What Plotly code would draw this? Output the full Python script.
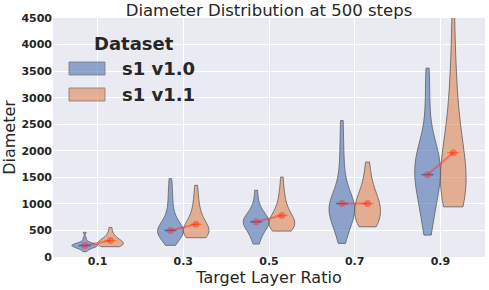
import plotly.graph_objects as go

categories = ["0.1", "0.3", "0.5", "0.7", "0.9"]
series_names = ["s1 v1.0", "s1 v1.1"]

# estimated sample values per category (read from the violin shapes)
v10_samples = [
    [100, 150, 160, 170, 185, 195, 200, 210, 215, 220, 225, 230, 235, 245, 255, 270, 300, 360, 465],
    [219, 260, 300, 340, 370, 400, 420, 440, 460, 475, 490, 500, 510, 525, 540, 560, 590, 620, 660,
     700, 760, 830, 900, 1050, 1150, 1300, 1475],
    [244, 330, 400, 450, 500, 540, 570, 600, 620, 640, 660, 680, 700, 720, 750, 780, 820, 870, 930,
     1050, 1256],
    [256, 380, 480, 560, 620, 680, 730, 780, 820, 860, 890, 920, 950, 980, 1010, 1050, 1100, 1160,
     1230, 1320, 1450, 1650, 1900, 2200, 2569],
    [412, 600, 750, 880, 1000, 1100, 1200, 1280, 1350, 1420, 1480, 1540, 1600, 1660, 1720, 1780,
     1850, 1920, 1980, 2050, 2150, 2300, 2700, 3100, 3556],
]
v11_samples = [
    [194, 200, 205, 210, 220, 230, 240, 250, 260, 270, 280, 290, 300, 310, 325, 340, 360, 385, 420,
     470, 556],
    [363, 370, 380, 390, 400, 420, 440, 460, 480, 500, 520, 540, 560, 580, 600, 630, 660, 700, 750,
     800, 870, 950, 1050, 1180, 1350],
    [488, 495, 505, 520, 540, 560, 580, 600, 620, 640, 660, 680, 700, 720, 745, 770, 800, 840, 880,
     940, 1000, 1080, 1180, 1300, 1506],
    [569, 580, 600, 630, 660, 700, 740, 780, 820, 860, 900, 930, 960, 990, 1020, 1060, 1100, 1150,
     1200, 1270, 1350, 1450, 1600, 1788],
    [944, 960, 990, 1030, 1080, 1140, 1200, 1270, 1340, 1410, 1480, 1550, 1620, 1700, 1780, 1860,
     1950, 2050, 2150, 2280, 2420, 2600, 2800, 3050, 3350, 3700, 4300, 5200],
]
# mean values shown by the markers
v10_means = [215, 500, 662, 1006, 1550]
v11_means = [310, 615, 781, 1006, 1965]

fill_colors = ["rgba(76,114,176,0.6)", "rgba(221,132,82,0.6)"]
mean_line_colors = ["#1f77b4", "#ff7f0e"]
edge = "rgba(100,100,100,0.85)"
off = 0.15
vw = 0.3
half = 0.07

fig = go.Figure()
for k, (name, samples, fc) in enumerate(zip(series_names, [v10_samples, v11_samples], fill_colors)):
    sign = -1 if k == 0 else 1
    for i, s in enumerate(samples):
        fig.add_trace(go.Violin(
            x=[i + sign * off] * len(s), y=s, name=name, legendgroup=name,
            scalegroup=f"{k}-{i}", width=vw, showlegend=False,
            fillcolor=fc, line=dict(color=edge, width=1),
            spanmode="hard", scalemode="width", points=False,
            box=dict(visible=False), meanline=dict(visible=False),
            hoverinfo="skip",
        ))

# short horizontal mean lines
for k, (means, col) in enumerate(zip([v10_means, v11_means], mean_line_colors)):
    sign = -1 if k == 0 else 1
    lx, ly = [], []
    for i, m in enumerate(means):
        c = i + sign * off
        lx += [c - half, c + half, None]
        ly += [m, m, None]
    fig.add_trace(go.Scatter(x=lx, y=ly, mode="lines", line=dict(color=col, width=1.5),
                             showlegend=False, hoverinfo="skip"))

# connecting red line + markers
cx, cy = [], []
for i, (a, b) in enumerate(zip(v10_means, v11_means)):
    cx += [i - off, i + off, None]
    cy += [a, b, None]
fig.add_trace(go.Scatter(x=cx, y=cy, mode="lines+markers",
                         line=dict(color="rgba(255,40,40,0.45)", width=2),
                         marker=dict(color="rgba(255,40,40,0.45)", size=7),
                         showlegend=False, hoverinfo="skip"))

W, H = 489, 290
L, R, T, B = 53, 4, 18, 33
pw, ph = W - L - R, H - T - B


def px_x(v):
    return (v - L) / pw


def px_y(v):
    return (H - v - B) / ph


# legend drawn as patches + text (seaborn style)
shapes = []
annotations = [dict(text="<b>Dataset</b>", x=px_x(92), y=px_y(43), xref="paper", yref="paper",
                    showarrow=False, xanchor="left", yanchor="middle", font=dict(size=18))]
legend_rows = [68.5, 94.5]
for name, fc, yc in zip(series_names, fill_colors, legend_rows):
    annotations.append(dict(text=f"<b>{name}</b>", x=px_x(120), y=px_y(yc), xref="paper",
                            yref="paper", showarrow=False, xanchor="left", yanchor="middle",
                            font=dict(size=18)))
    shapes.append(dict(type="rect", xref="paper", yref="paper",
                       x0=px_x(69), x1=px_x(105), y0=px_y(yc + 6.5), y1=px_y(yc - 6.5),
                       fillcolor=fc, line=dict(color="rgba(120,120,120,0.8)", width=1)))

fig.update_layout(
    width=W, height=H,
    margin=dict(l=L, r=R, t=T, b=B),
    paper_bgcolor="white", plot_bgcolor="#EAEAF2",
    violinmode="overlay",
    showlegend=False,
    font=dict(family="DejaVu Sans", color="#262626"),
    title=dict(text="Diameter Distribution at 500 steps", font=dict(size=16.5, color="#262626"),
               x=(L + pw / 2) / W, xanchor="center", y=1 - 10 / H, yanchor="middle",
               yref="container"),
    annotations=annotations, shapes=shapes,
    xaxis=dict(range=[-0.52, 4.52], tickmode="array", tickvals=list(range(len(categories))),
               ticktext=categories, showgrid=True, gridcolor="white", gridwidth=1,
               zeroline=False, showline=False, ticks="", ticklabelstandoff=-4,
               automargin=False,
               tickfont=dict(size=11, weight="bold"),
               title=dict(text="Target Layer Ratio", font=dict(size=16), standoff=2)),
    yaxis=dict(range=[0, 4500], dtick=500, showgrid=True, gridcolor="white", gridwidth=1,
               zeroline=False, showline=False, ticks="", automargin=False,
               tickfont=dict(size=11, weight="bold"),
               title=dict(text="Diameter", font=dict(size=16), standoff=6)),
)

fig.write_html("out.html",
               config={"displayModeBar": False},
               post_script="document.body.style.margin='0';document.body.style.overflow='hidden';")
